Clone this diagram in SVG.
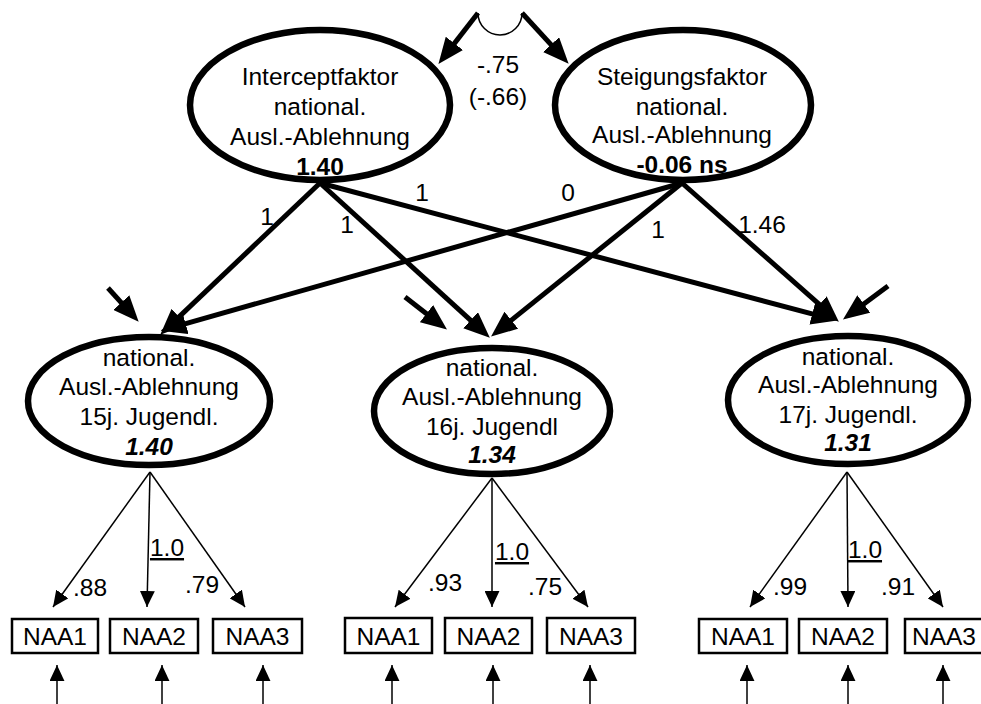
<svg xmlns="http://www.w3.org/2000/svg" width="981" height="704" viewBox="0 0 981 704">
<defs>
<style>
text{font-family:"Liberation Sans",Arial,sans-serif;font-size:24.5px;fill:#000;text-anchor:middle}
.b{font-weight:bold}
.bi{font-weight:bold;font-style:italic}
.lat{fill:#fff;stroke:#000;stroke-width:6.5}
.box{fill:#fff;stroke:#000;stroke-width:2.5}
.thick{stroke:#000;stroke-width:5;fill:none;marker-end:url(#ah)}
.thin{stroke:#000;stroke-width:1.5;fill:none;marker-end:url(#as)}
.u{text-decoration:underline}
</style>
<marker id="ah" markerUnits="userSpaceOnUse" markerWidth="26" markerHeight="22" viewBox="0 0 25 21" refX="13" refY="10.5" orient="auto">
<path d="M0,0 L25,10.5 L0,21 z" fill="#000"/>
</marker>
<marker id="as" markerUnits="userSpaceOnUse" markerWidth="16" markerHeight="15" viewBox="0 0 15 14" refX="15" refY="7" orient="auto">
<path d="M0,0 L15,7 L0,14 z" fill="#000"/>
</marker>
</defs>
<rect width="981" height="704" fill="#fff"/>

<g id="connectors">
<path d="M478,13 A22,22 0 0 0 522,13" fill="none" stroke="#000" stroke-width="1.5"/>
<line class="thick" x1="478" y1="13" x2="446.1" y2="54.1"/>
<line class="thick" x1="522" y1="13" x2="560.2" y2="54.6"/>
<line class="thick" x1="320" y1="183" x2="169.3" y2="326.1"/>
<line class="thick" x1="320" y1="183" x2="480.6" y2="329.3"/>
<line class="thick" x1="320" y1="183" x2="825.3" y2="317.4"/>
<line class="thick" x1="682" y1="183" x2="172.6" y2="327.3"/>
<line class="thick" x1="682" y1="183" x2="500.8" y2="328.7"/>
<line class="thick" x1="682" y1="183" x2="829.5" y2="313.4"/>
<line class="thick" x1="108" y1="288" x2="130.3" y2="312.6"/>
<line class="thick" x1="405" y1="297" x2="437.1" y2="321.9"/>
<line class="thick" x1="888" y1="286" x2="853" y2="312"/>
<line class="thin" x1="150" y1="472" x2="53" y2="607"/>
<line class="thin" x1="150" y1="472" x2="147" y2="607"/>
<line class="thin" x1="150" y1="472" x2="245" y2="607"/>
<line class="thin" x1="492" y1="478" x2="395" y2="607"/>
<line class="thin" x1="492" y1="478" x2="492" y2="607"/>
<line class="thin" x1="492" y1="478" x2="588" y2="607"/>
<line class="thin" x1="847" y1="472" x2="750" y2="607"/>
<line class="thin" x1="847" y1="472" x2="848" y2="607"/>
<line class="thin" x1="847" y1="472" x2="943" y2="607"/>
<line class="thin" x1="57" y1="704" x2="57" y2="665"/>
<line class="thin" x1="162" y1="704" x2="162" y2="665"/>
<line class="thin" x1="263" y1="704" x2="263" y2="665"/>
<line class="thin" x1="392" y1="704" x2="392" y2="665"/>
<line class="thin" x1="493" y1="704" x2="493" y2="665"/>
<line class="thin" x1="590" y1="704" x2="590" y2="665"/>
<line class="thin" x1="747" y1="704" x2="747" y2="665"/>
<line class="thin" x1="848" y1="704" x2="848" y2="665"/>
<line class="thin" x1="943" y1="704" x2="943" y2="665"/>
<text x="498" y="73">-.75</text>
<text x="498" y="105">(-.66)</text>
<text x="267" y="225">1</text>
<text x="347" y="233">1</text>
<text x="422" y="201">1</text>
<text x="568" y="201">0</text>
<text x="658" y="238">1</text>
<text x="762" y="233">1.46</text>
<text x="90" y="596">.88</text>
<text x="167" y="556" class="u">1.0</text>
<text x="202" y="593">.79</text>
<text x="445" y="591">.93</text>
<text x="512" y="560" class="u">1.0</text>
<text x="545" y="595">.75</text>
<text x="790" y="595">.99</text>
<text x="865" y="558" class="u">1.0</text>
<text x="898" y="595">.91</text>
</g>

<g id="intercept">
<ellipse class="lat" cx="320" cy="105" rx="130" ry="75"/>
<text x="320" y="85">Interceptfaktor</text>
<text x="320" y="115">national.</text>
<text x="320" y="145">Ausl.-Ablehnung</text>
<text x="320" y="175" class="b">1.40</text>
</g>
<g id="steigung">
<ellipse class="lat" cx="683" cy="105" rx="128" ry="75"/>
<text x="682" y="85">Steigungsfaktor</text>
<text x="682" y="115">national.</text>
<text x="682" y="143">Ausl.-Ablehnung</text>
<text x="682" y="173" class="b">-0.06 ns</text>
</g>
<g id="lat15">
<ellipse class="lat" cx="149" cy="401" rx="121" ry="64"/>
<text x="149" y="366">national.</text>
<text x="149" y="395">Ausl.-Ablehnung</text>
<text x="149" y="425">15j. Jugendl.</text>
<text x="149" y="455" class="bi">1.40</text>
</g>
<g id="lat16">
<ellipse class="lat" cx="492" cy="411" rx="118" ry="63"/>
<text x="492" y="376">national.</text>
<text x="492" y="405">Ausl.-Ablehnung</text>
<text x="492" y="435">16j. Jugendl</text>
<text x="492" y="463" class="bi">1.34</text>
</g>
<g id="lat17">
<ellipse class="lat" cx="848" cy="400" rx="120" ry="64"/>
<text x="848" y="365">national.</text>
<text x="848" y="393">Ausl.-Ablehnung</text>
<text x="848" y="423">17j. Jugendl.</text>
<text x="848" y="451" class="bi">1.31</text>
</g>

<g id="naa1_15"><rect class="box" x="12" y="619" width="86" height="34"/><text x="55" y="645">NAA1</text></g>
<g id="naa2_15"><rect class="box" x="110" y="619" width="88" height="34"/><text x="154" y="645">NAA2</text></g>
<g id="naa3_15"><rect class="box" x="213" y="619" width="89" height="34"/><text x="257.5" y="645">NAA3</text></g>
<g id="naa1_16"><rect class="box" x="345" y="618" width="87" height="35"/><text x="388.5" y="645">NAA1</text></g>
<g id="naa2_16"><rect class="box" x="445" y="618" width="87" height="35"/><text x="488.5" y="645">NAA2</text></g>
<g id="naa3_16"><rect class="box" x="547" y="618" width="88" height="35"/><text x="591" y="645">NAA3</text></g>
<g id="naa1_17"><rect class="box" x="699" y="619" width="88" height="34"/><text x="743" y="645">NAA1</text></g>
<g id="naa2_17"><rect class="box" x="799" y="619" width="88" height="34"/><text x="843" y="645">NAA2</text></g>
<g id="naa3_17"><rect class="box" x="905" y="619" width="88" height="34"/><text x="944" y="645">NAA3</text></g>
</svg>
